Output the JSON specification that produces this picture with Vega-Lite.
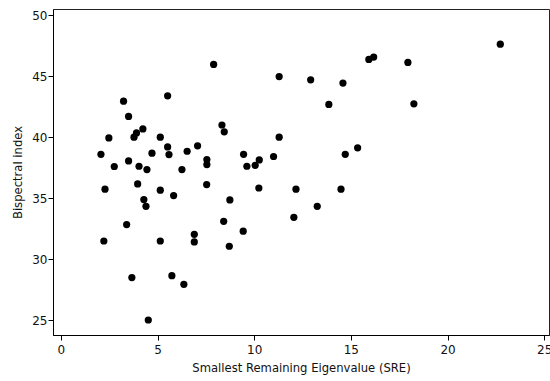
{
  "$schema": "https://vega.github.io/schema/vega-lite/v6.json",
  "autosize": "none",
  "width": 496,
  "height": 326,
  "padding": {"left": 53, "top": 9, "right": 1, "bottom": 46},
  "background": "white",
  "config": {
    "view": {"stroke": "#222", "strokeWidth": 1},
    "axis": {
      "labelFont": "DejaVu Sans",
      "titleFont": "DejaVu Sans",
      "labelFontSize": 12,
      "titleFontSize": 11.6,
      "titleFontWeight": "normal",
      "labelColor": "#111",
      "titleColor": "#111",
      "domainColor": "black",
      "tickColor": "black",
      "tickSize": 5,
      "grid": false
    }
  },
  "data": {
    "values": [
      {"sre": 2.07, "bis": 38.6},
      {"sre": 2.48, "bis": 39.94},
      {"sre": 2.76, "bis": 37.6},
      {"sre": 3.24, "bis": 42.95},
      {"sre": 3.50, "bis": 41.7},
      {"sre": 3.50, "bis": 38.06},
      {"sre": 3.78, "bis": 40.0},
      {"sre": 3.91, "bis": 40.35},
      {"sre": 4.24, "bis": 40.68},
      {"sre": 4.04, "bis": 37.62},
      {"sre": 4.45, "bis": 37.35},
      {"sre": 4.71, "bis": 38.69},
      {"sre": 5.14, "bis": 40.0},
      {"sre": 5.52, "bis": 43.39},
      {"sre": 5.52, "bis": 39.2},
      {"sre": 5.59, "bis": 38.58},
      {"sre": 6.26, "bis": 37.35},
      {"sre": 6.53, "bis": 38.85},
      {"sre": 7.07, "bis": 39.29},
      {"sre": 2.28, "bis": 35.74},
      {"sre": 3.97, "bis": 36.17},
      {"sre": 4.29, "bis": 34.89},
      {"sre": 4.40, "bis": 34.34},
      {"sre": 5.14, "bis": 35.66},
      {"sre": 5.83, "bis": 35.22},
      {"sre": 3.40, "bis": 32.84},
      {"sre": 2.22, "bis": 31.5},
      {"sre": 5.14, "bis": 31.5},
      {"sre": 6.90, "bis": 32.05},
      {"sre": 6.90, "bis": 31.42},
      {"sre": 3.67, "bis": 28.5},
      {"sre": 5.74, "bis": 28.66},
      {"sre": 6.36, "bis": 27.95},
      {"sre": 4.52, "bis": 25.03},
      {"sre": 7.90, "bis": 45.96},
      {"sre": 7.55, "bis": 38.17},
      {"sre": 7.55, "bis": 37.76},
      {"sre": 8.33, "bis": 41.0},
      {"sre": 8.45, "bis": 40.44},
      {"sre": 9.45, "bis": 38.6},
      {"sre": 9.62, "bis": 37.62},
      {"sre": 10.05, "bis": 37.7},
      {"sre": 10.26, "bis": 38.14},
      {"sre": 11.0, "bis": 38.42},
      {"sre": 11.29, "bis": 44.97},
      {"sre": 11.29, "bis": 40.0},
      {"sre": 12.92, "bis": 44.7},
      {"sre": 13.86, "bis": 42.68},
      {"sre": 14.59, "bis": 44.43},
      {"sre": 14.71, "bis": 38.6},
      {"sre": 15.35, "bis": 39.13},
      {"sre": 15.93, "bis": 46.37},
      {"sre": 16.18, "bis": 46.56},
      {"sre": 7.54, "bis": 36.12},
      {"sre": 8.74, "bis": 34.86},
      {"sre": 10.24, "bis": 35.84},
      {"sre": 12.16, "bis": 35.74},
      {"sre": 14.49, "bis": 35.74},
      {"sre": 13.26, "bis": 34.34},
      {"sre": 12.05, "bis": 33.44},
      {"sre": 8.42, "bis": 33.11},
      {"sre": 9.43, "bis": 32.3},
      {"sre": 8.71, "bis": 31.07},
      {"sre": 22.73, "bis": 47.62},
      {"sre": 17.95, "bis": 46.12},
      {"sre": 18.26, "bis": 42.73}
    ]
  },
  "mark": {"type": "circle", "size": 52, "color": "black", "opacity": 1},
  "encoding": {
    "x": {
      "field": "sre",
      "type": "quantitative",
      "title": "Smallest Remaining Eigenvalue (SRE)",
      "scale": {"domain": [-0.41, 25.25], "nice": false, "zero": false},
      "axis": {"values": [0, 5, 10, 15, 20, 25], "titlePadding": 7, "labelPadding": 4}
    },
    "y": {
      "field": "bis",
      "type": "quantitative",
      "title": "Bispectral index",
      "scale": {"domain": [23.8, 50.5], "nice": false, "zero": false},
      "axis": {"values": [25, 30, 35, 40, 45, 50], "titlePadding": 8, "labelPadding": 1}
    }
  }
}
